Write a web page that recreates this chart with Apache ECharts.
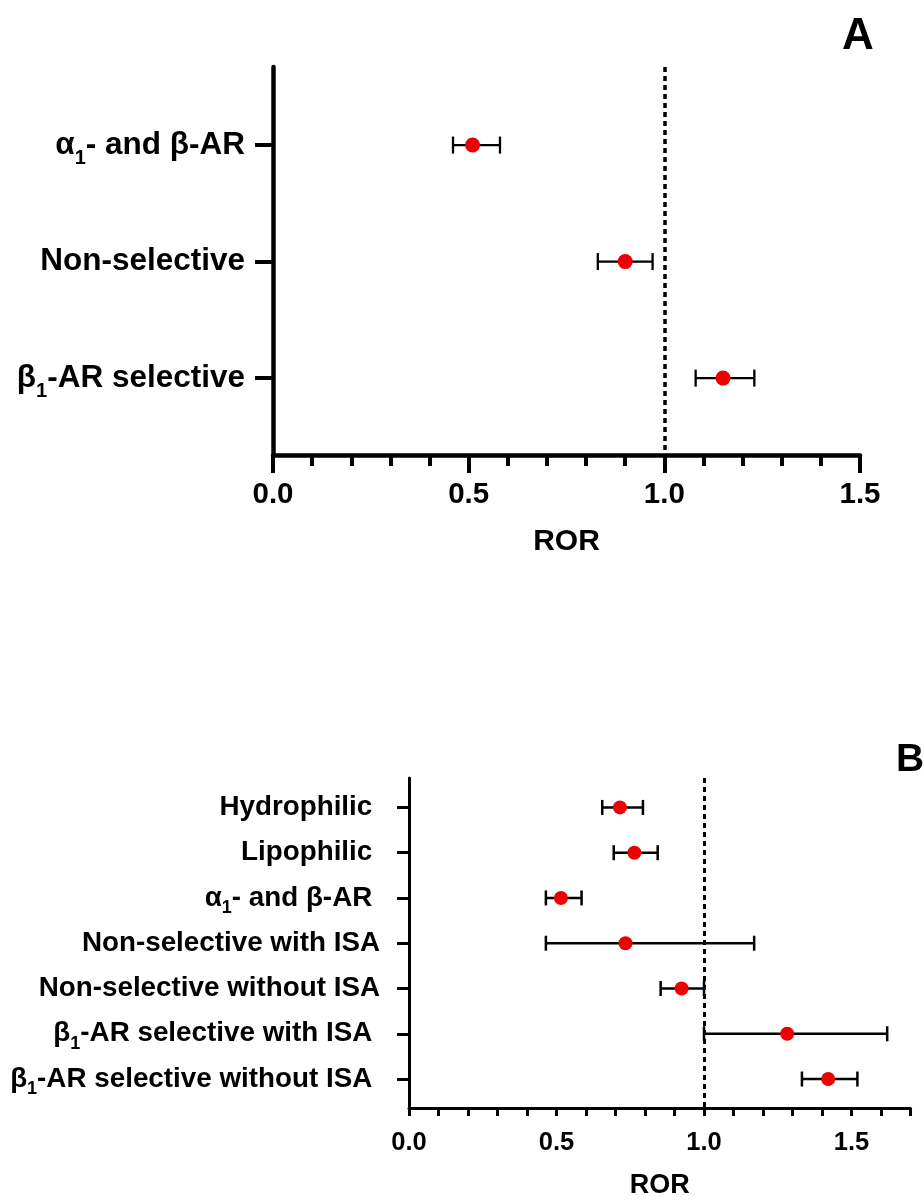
<!DOCTYPE html>
<html>
<head>
<meta charset="utf-8">
<script src="https://cdn.jsdelivr.net/npm/echarts@6.0.0/dist/echarts.min.js"></script>
<style>
  html, body { margin: 0; padding: 0; background: #ffffff; }
  #chart { width: 924px; height: 1200px; }
</style>
</head>
<body>
<div id="chart"></div>
<script>
// ---- Panel A data ----
const catsA = ['α1- and β-AR', 'Non-selective', 'β1-AR selective'];
const rorA  = [0.51, 0.90, 1.15];
const lowA  = [0.46, 0.83, 1.08];
const highA = [0.58, 0.97, 1.23];

// ---- Panel B data ----
const catsB = ['Hydrophilic ', 'Lipophilic ', 'α1- and β-AR ', 'Non-selective with ISA',
               'Non-selective without ISA', 'β1-AR selective with ISA ', 'β1-AR selective without ISA '];
const rorB  = [0.715, 0.764, 0.515, 0.734, 0.924, 1.282, 1.421];
const lowB  = [0.655, 0.694, 0.464, 0.464, 0.853, 1.00, 1.332];
const highB = [0.793, 0.843, 0.585, 1.17, 1.00, 1.621, 1.52];

// tick labels
const ticksA = [0, 0.5, 1.0, 1.5];
const ticksB = [0, 0.5, 1.0, 1.5];
const panelTitles = ['A', 'B'];
const axisName = 'ROR';
const refValue = 1.0;

const FONT = '"Liberation Sans", Arial, Helvetica, sans-serif';
const RED = '#ee0000';

function labelFmt(cats) {
  return function (v) {
    const name = cats[Math.round(v)];
    return name === undefined ? '' : name.replace(/([αβ])1/g, '$1{sub|1}');
  };
}

function errRenderer(capH, lw) {
  return function (params, api) {
    const y = api.value(2);
    const p1 = api.coord([api.value(0), y]);
    const p2 = api.coord([api.value(1), y]);
    const style = { stroke: '#000', lineWidth: lw, fill: null };
    return {
      type: 'group',
      children: [
        { type: 'line', shape: { x1: p1[0], y1: p1[1], x2: p2[0], y2: p2[1] }, style: style },
        { type: 'line', shape: { x1: p1[0], y1: p1[1] - capH / 2, x2: p1[0], y2: p1[1] + capH / 2 }, style: style },
        { type: 'line', shape: { x1: p2[0], y1: p2[1] - capH / 2, x2: p2[0], y2: p2[1] + capH / 2 }, style: style }
      ]
    };
  };
}

const idxA = catsA.map((c, i) => i);
const idxB = catsB.map((c, i) => i);

const chart = echarts.init(document.getElementById('chart'), null, { renderer: 'canvas' });

const option = {
  backgroundColor: '#ffffff',
  animation: false,
  title: [
    { text: panelTitles[0], left: 842, top: 15, padding: 0,
      textStyle: { fontFamily: FONT, fontSize: 44, fontWeight: 'bold', color: '#000' } },
    { text: panelTitles[1], left: 896, top: 741, padding: 0,
      textStyle: { fontFamily: FONT, fontSize: 39, fontWeight: 'bold', color: '#000' } }
  ],
  grid: [
    { left: 273, top: 67, width: 587, height: 388 },
    { left: 409, top: 778, width: 501.5, height: 331 }
  ],
  xAxis: [
    {
      type: 'value', gridIndex: 0, min: 0, max: 1.5, interval: 0.5,
      name: axisName, nameLocation: 'middle', nameGap: 72,
      nameTextStyle: { fontFamily: FONT, fontSize: 30, fontWeight: 'bold', color: '#000' },
      axisLine: { show: true, onZero: false, lineStyle: { color: '#000', width: 4.5 } },
      axisTick: { show: true, length: 18, lineStyle: { color: '#000', width: 4 } },
      minorTick: { show: true, splitNumber: 5, length: 11, lineStyle: { color: '#000', width: 4 } },
      axisLabel: { fontFamily: FONT, fontSize: 29.5, fontWeight: 'bold', color: '#000', margin: 25,
                   customValues: ticksA, formatter: v => v.toFixed(1) },
      splitLine: { show: false }, minorSplitLine: { show: false }
    },
    {
      type: 'value', gridIndex: 1, min: 0, max: 1.7, interval: 0.1,
      name: axisName, nameLocation: 'middle', nameGap: 64,
      nameTextStyle: { fontFamily: FONT, fontSize: 27, fontWeight: 'bold', color: '#000' },
      axisLine: { show: true, onZero: false, lineStyle: { color: '#000', width: 3 } },
      axisTick: { show: true, length: 8, lineStyle: { color: '#000', width: 3 } },
      axisLabel: { fontFamily: FONT, fontSize: 25.5, fontWeight: 'bold', color: '#000', margin: 22,
                   customValues: ticksB, formatter: v => v.toFixed(1) },
      splitLine: { show: false }
    }
  ],
  yAxis: [
    {
      type: 'value', gridIndex: 0, inverse: true, min: -0.67, max: 2.66,
      axisLine: { show: true, onZero: false, lineStyle: { color: '#000', width: 4.5 } },
      axisTick: { show: true, length: 18, customValues: idxA, lineStyle: { color: '#000', width: 4 } },
      axisLabel: {
        customValues: idxA, formatter: labelFmt(catsA), margin: 28,
        fontFamily: FONT, fontSize: 31.5, fontWeight: 'bold', color: '#000', lineHeight: 46,
        rich: { sub: { fontFamily: FONT, fontSize: 20, fontWeight: 'bold', color: '#000',
                       lineHeight: 20, verticalAlign: 'bottom' } }
      },
      splitLine: { show: false }
    },
    {
      type: 'value', gridIndex: 1, inverse: true, min: -0.65, max: 6.64,
      axisLine: { show: true, onZero: false, lineStyle: { color: '#000', width: 3 } },
      axisTick: { show: true, length: 12, customValues: idxB, lineStyle: { color: '#000', width: 3 } },
      axisLabel: {
        customValues: idxB, formatter: labelFmt(catsB), margin: 29,
        fontFamily: FONT, fontSize: 27.8, fontWeight: 'bold', color: '#000', lineHeight: 38,
        rich: { sub: { fontFamily: FONT, fontSize: 18, fontWeight: 'bold', color: '#000',
                       lineHeight: 18, verticalAlign: 'bottom' } }
      },
      splitLine: { show: false }
    }
  ],
  series: [
    {
      type: 'custom', xAxisIndex: 0, yAxisIndex: 0,
      renderItem: errRenderer(17, 2.3),
      encode: { x: [0, 1], y: 2 },
      data: idxA.map(i => [lowA[i], highA[i], i]),
      z: 2,
      markLine: {
        silent: true, symbol: 'none', label: { show: false },
        lineStyle: { color: '#000', width: 3.5, type: [5, 4] },
        data: [{ xAxis: refValue }]
      }
    },
    {
      type: 'scatter', xAxisIndex: 0, yAxisIndex: 0,
      symbol: 'circle', symbolSize: 15,
      itemStyle: { color: RED, opacity: 1 },
      data: idxA.map(i => [rorA[i], i]),
      z: 5
    },
    {
      type: 'custom', xAxisIndex: 1, yAxisIndex: 1,
      renderItem: errRenderer(15, 2.5),
      encode: { x: [0, 1], y: 2 },
      data: idxB.map(i => [lowB[i], highB[i], i]),
      z: 2,
      markLine: {
        silent: true, symbol: 'none', label: { show: false },
        lineStyle: { color: '#000', width: 3, type: [5, 4] },
        data: [{ xAxis: refValue }]
      }
    },
    {
      type: 'scatter', xAxisIndex: 1, yAxisIndex: 1,
      symbol: 'circle', symbolSize: 14,
      itemStyle: { color: RED, opacity: 1 },
      data: idxB.map(i => [rorB[i], i]),
      z: 5
    }
  ]
};

chart.setOption(option);
</script>
</body>
</html>
